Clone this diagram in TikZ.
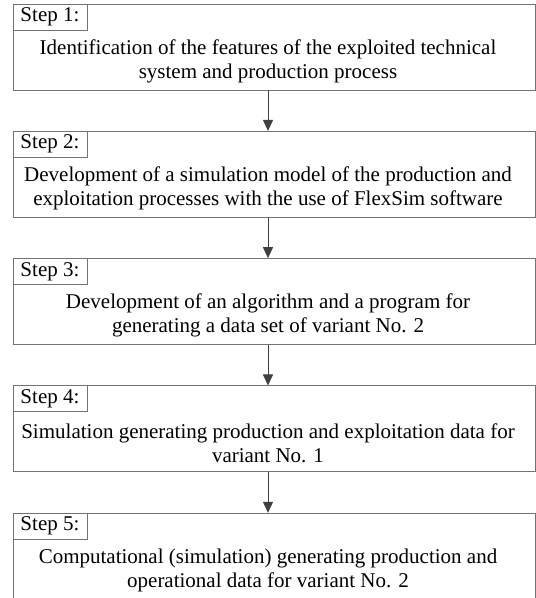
\documentclass[tikz,border=0pt]{standalone}
\usepackage{fontspec}
\setmainfont{Liberation Serif}
\usetikzlibrary{positioning,arrows.meta}

\begin{document}
\begin{tikzpicture}[
    x=1pt, y=1pt,
    font=\fontsize{21}{24}\selectfont,
    >={Triangle[length=11pt,width=10pt]},
    stepbox/.style={
        draw=black!55,
        line width=0.8pt,
        minimum width=522pt,
        minimum height=86pt,
        inner sep=0pt
    },
    steplabel/.style={
        draw=black!55,
        line width=0.7pt,
        minimum width=74pt,
        minimum height=26pt,
        inner sep=0pt,
        anchor=north west
    },
    steptext/.style={
        align=center,
        text=black,
        inner sep=0pt
    },
    arrow/.style={
        ->,
        line width=1pt,
        draw=black!75
    }
]

% Dimensions
\def\stepsep{127.3}

% Canvas
\useasboundingbox (0,0) rectangle (536,598);
\clip (0,0) rectangle (536,598);

% Steps
\foreach \i/\desc in {
    1/{Identification of the features of the exploited technical\\system and production process},
    2/{Development of a simulation model of the production and\\exploitation processes with the use of FlexSim software},
    3/{Development of an algorithm and a program for\\generating a data set of variant No. 2},
    4/{Simulation generating production and exploitation data for\\variant No. 1},
    5/{Computational (simulation) generating production and\\operational data for variant No. 2}} {
    % Frame
    \node[stepbox] (box\i) at (274, {551-(\i-1)*\stepsep}) {};
    % Step number
    \node[steplabel] (lab\i) at (box\i.north west) {Step \i:};
    % Description
    \node[steptext] (txt\i) at (268, {537-(\i-1)*\stepsep}) {\desc};
}

% Arrows
\foreach \i in {1,...,4} {
    \pgfmathtruncatemacro\j{\i+1}
    \draw[arrow] (box\i.south -| txt\i) -- (box\j.north -| txt\i);
}

\end{tikzpicture}
\end{document}
